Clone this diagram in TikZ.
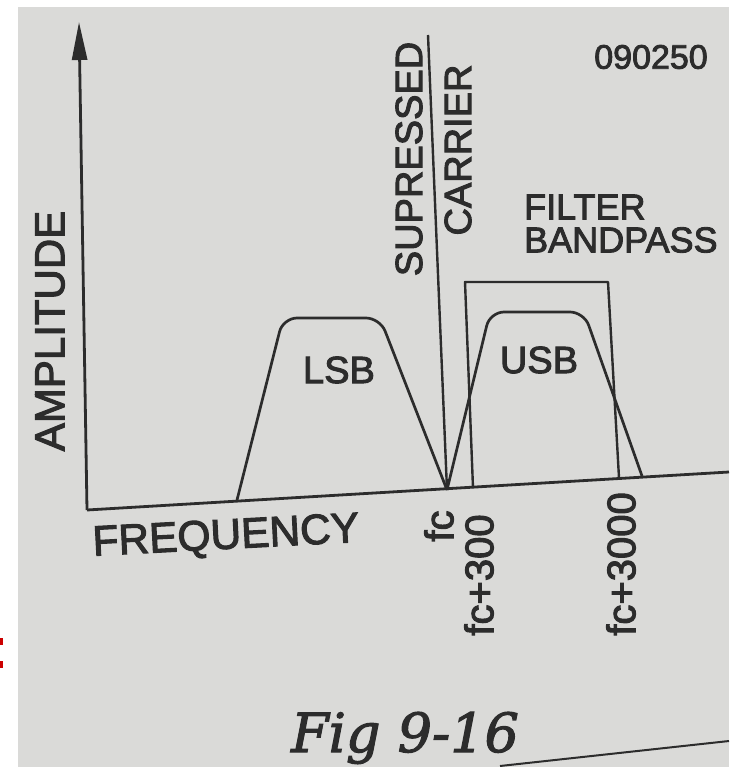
\documentclass[tikz,border=0pt]{standalone}
\usepackage{fontspec}
\setmainfont{Liberation Sans}[FakeBold=2.5]
\newfontfamily\figfont{DejaVu Serif}[FakeBold=2]
\usetikzlibrary{arrows.meta}
\definecolor{paper}{HTML}{DADAD8}
\definecolor{ink}{HTML}{2C2C2C}
\tikzset{
  curve/.style={draw=ink, line width=2.7pt, line join=round, rounded corners=14pt},
  axis/.style={draw=ink, line width=2.8pt},
  lbl/.style={text=ink, inner sep=0pt, font=\fontsize{38}{40}\selectfont},
  vlbl/.style={lbl, rotate=90},
}
\begin{document}
\begin{tikzpicture}[x=1pt,y=-1pt]
\useasboundingbox (0,0) rectangle (729,767);
\fill[white] (0,0) rectangle (729,767);
\fill[paper] (18,7) rectangle (729,767);
\fill[red!80!black] (0,638) rectangle (3,645);
\fill[red!80!black] (0,661) rectangle (3,668);
% axes
\coordinate (origin) at (87,510);
\coordinate (ytop) at (79,22);
\coordinate (xend) at (729,472);
\draw[axis, -{Triangle[length=38pt,width=15pt]}] (origin) -- (ytop);
\draw[axis] (origin) -- (xend);
% carrier line
\coordinate (fc) at (447,490);
\coordinate (ctop) at (428,35);
\draw[axis, line width=2.4pt] (fc) -- (ctop);
% LSB
\coordinate (lsbstart) at (237,500);
\draw[curve] (lsbstart) -- (283,318) -- (380,318) -- (fc);
% USB
\coordinate (usbend) at (642,476);
\draw[curve] (fc) -- (490,312) -- (584,312) -- (usbend);
% filter box
\coordinate (fb1) at (473,488);
\coordinate (fb4) at (619,478);
\draw[curve, rounded corners=0pt, line width=2.4pt] (fb1) -- (465,282) -- (608,282) -- (fb4);
% labels
\node[vlbl, font=\fontsize{42}{44}\selectfont] (amp) at (50,331) {AMPLITUDE};
\node[vlbl] (sup) at (409,159) {SUPRESSED};
\node[vlbl] (car) at (458,150) {CARRIER};
\node[lbl, font=\fontsize{34}{36}\selectfont] (code) at (651,57) {090250};
\node[lbl, anchor=west, font=\fontsize{36}{38}\selectfont] (filt) at (524,207) {FILTER};
\node[lbl, anchor=west, font=\fontsize{36}{38}\selectfont] (band) at (524,240) {BANDPASS};
\node[lbl] (lsb) at (339,370) {LSB};
\node[lbl] (usb) at (539,360) {USB};
\node[lbl, font=\fontsize{42.5}{44}\selectfont, rotate=3] (freq) at (226,538) {FREQUENCY};
\node[vlbl, font=\fontsize{40}{42}\selectfont] (fclbl) at (439,526) {fc};
\node[vlbl, font=\fontsize{40}{42}\selectfont] (fc300) at (479,575) {fc+300};
\node[vlbl, font=\fontsize{40}{42}\selectfont] (fc3000) at (621,564) {fc+3000};
\node[text=ink, inner sep=0pt, anchor=base west, font=\figfont\itshape\fontsize{54}{56}\selectfont] (fig) at (291,752) {Fig 9-16};
\coordinate (ulA) at (500,766);
\coordinate (ulB) at (729,741);
\draw[ink, line width=2pt] (ulA) -- (ulB);
\end{tikzpicture}
\end{document}
